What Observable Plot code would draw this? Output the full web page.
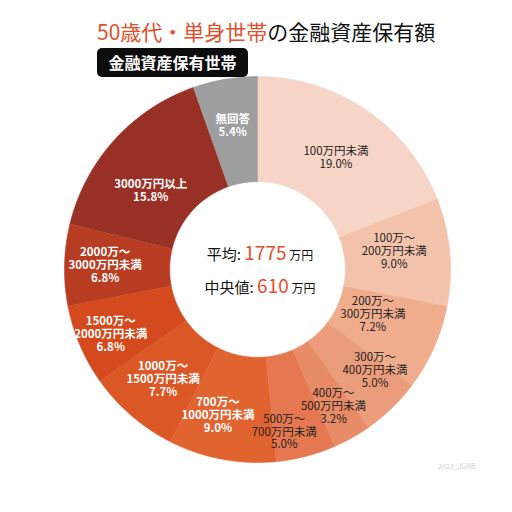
<!DOCTYPE html>
<html>
<head>
<meta charset="utf-8">
<script src="https://cdn.jsdelivr.net/npm/d3@7"></script>
<script src="https://cdn.jsdelivr.net/npm/@observablehq/plot@0.6"></script>
<style>
  body { margin: 0; background: #fff; }
  #wrap { position: relative; width: 512px; height: 512px; font-family: 'Noto Sans CJK JP', 'Noto Sans', sans-serif; }
  #chart { position: absolute; left: 0; top: 0; }
  #title { position: absolute; left: 97px; top: 16px; font-size: 21px; color: #111; white-space: nowrap; }
  #title .hl { color: #E0502D; }
  #badge { position: absolute; left: 97px; top: 48px; width: 151px; height: 29px; background: #0c0c0c; color: #fff;
           border-radius: 5px; font-size: 16px; font-weight: bold; text-align: center; line-height: 29px; }
  .stat { position: absolute; left: 160px; width: 200px; text-align: center; color: #111; white-space: nowrap; }
  .stat .k { font-size: 15px; }
  .stat .v { font-size: 19px; color: #E0502D; }
  .stat .u { font-size: 12px; }
  #mark { position: absolute; left: 438px; top: 461px; font-size: 7px; color: #d0d0d0; }
</style>
</head>
<body>
<div id="wrap">
  <div id="chart"></div>
  <div id="title"><span class="hl">50歳代・単身世帯</span>の金融資産保有額</div>
  <div id="badge">金融資産保有世帯</div>
  <div id="stats"></div>
  <div id="mark">2023_JGNB</div>
</div>
<script>
// 金融資産保有額の分布 (%)
const categories = [
  '100万円未満', '100万～\n200万円未満', '200万～\n300万円未満', '300万～\n400万円未満',
  '400万～\n500万円未満', '500万～\n700万円未満', '700万～\n1000万円未満', '1000万～\n1500万円未満',
  '1500万～\n2000万円未満', '2000万～\n3000万円未満', '3000万円以上', '無回答'
]
const shares = [19.0, 9.0, 7.2, 5.0, 3.2, 5.0, 9.0, 7.7, 6.8, 6.8, 15.8, 5.4]
const colors = [
  '#F6D5C6', '#F3C2AB', '#EFAD8E', '#EB9C7B', '#E88B67', '#E57850',
  '#E1632F', '#DC5726', '#D4491D', '#B73C22', '#993025', '#9E9E9E'
]
// 平均・中央値 (万円)
const statNames = ['平均', '中央値']
const statValues = [1775, 610]

// ラベル配置の微調整 (半径比, 角度ずれ[度])
const labelR = [0.71, 0.715, 0.64, 0.80, 0.81, 0.85, 0.78, 0.75, 0.83, 0.79, 0.69, 0.76]
const labelShift = [0.7, -2.5, -2.9, -5.4, 0.3, 5.2, 4.6, 0, -0.5, 0.5, -5.4, 0]

const total = d3.sum(shares)
const inner = 0.455
let cum = 0
const slices = shares.map((v, i) => {
  const a0 = cum / total * 2 * Math.PI
  cum += v
  const a1 = cum / total * 2 * Math.PI
  const la = (a0 + a1) / 2 + labelShift[i] * Math.PI / 180
  return { cat: categories[i], share: v, i, a0, a1, lx: labelR[i] * Math.sin(la), ly: labelR[i] * Math.cos(la) }
})

// 扇形の輪郭 (外弧 → 内弧)
const pts = []
slices.forEach(s => {
  const n = Math.max(4, Math.ceil((s.a1 - s.a0) / 0.01))
  for (let k = 0; k <= n; k++) {
    const t = s.a0 + (s.a1 - s.a0) * k / n
    pts.push({ cat: s.cat, x: Math.sin(t), y: Math.cos(t) })
  }
  for (let k = n; k >= 0; k--) {
    const t = s.a0 + (s.a1 - s.a0) * k / n
    pts.push({ cat: s.cat, x: inner * Math.sin(t), y: inner * Math.cos(t) })
  }
})

const labelText = s => s.cat + '\n' + s.share.toFixed(1) + '%'

const chart = Plot.plot({
  width: 512,
  height: 512,
  margin: 0,
  x: { domain: [-1, 1], range: [257 - 193, 257 + 193], axis: null },
  y: { domain: [-1, 1], range: [269 + 193, 269 - 193], axis: null },
  color: { domain: categories, range: colors },
  style: { fontFamily: "'Noto Sans CJK JP', sans-serif", background: 'transparent' },
  marks: [
    Plot.line(pts, { x: 'x', y: 'y', z: 'cat', fill: 'cat', stroke: 'cat', strokeWidth: 0.6, curve: 'linear' }),
    Plot.text(slices.filter(s => s.i < 6), {
      x: 'lx', y: 'ly', text: labelText, fill: '#222', fontSize: 11.5, lineHeight: 1.13
    }),
    Plot.text(slices.filter(s => s.i >= 6), {
      x: 'lx', y: 'ly', text: labelText, fill: '#fff', fontSize: 11.5, fontWeight: 'bold', lineHeight: 1.13
    })
  ]
})
d3.select('#chart').append(() => chart)

// 中央の注記
const tops = [238, 271]
statNames.forEach((nm, i) => {
  const d = d3.select('#stats').append('div').attr('class', 'stat').style('top', tops[i] + 'px')
  d.append('span').attr('class', 'k').text(nm + ': ')
  d.append('span').attr('class', 'v').text(statValues[i])
  d.append('span').attr('class', 'u').text(' 万円')
})
</script>
</body>
</html>
